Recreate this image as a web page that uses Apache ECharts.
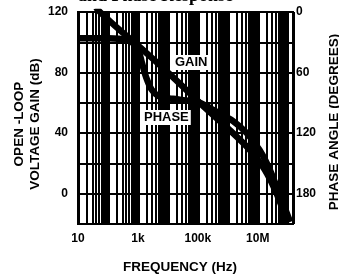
<!DOCTYPE html>
<html><head><meta charset="utf-8">
<script src="https://cdn.jsdelivr.net/npm/echarts@6/dist/echarts.min.js"></script>
<style>html,body{margin:0;padding:0;background:#fff}#c{width:339px;height:274px}</style>
</head><body><div id="c"></div>
<script>
// Data
const gainFreq = [40, 54, 250, 1470, 14700, 116000, 1160000, 5400000, 17000000, 43000000, 93000000];
const gainDb   = [123, 120, 108, 95, 77, 60, 42, 29, 16, 0, -18];
const phaseFreq = [10, 100, 430, 930, 1350, 1850, 2900, 5400, 14700, 50000, 116000, 430000, 1500000, 4300000, 11600000, 25000000, 54000000, 120000000];
const phaseDeg  = [26, 26, 28, 35, 50, 64, 77, 84, 86, 88, 90, 99, 108, 120, 137, 156, 181, 208];
const gainTickLabels = [0, 40, 80, 120];
const phaseTickLabels = [0, 60, 120, 180];
const freqTickLabels = {1: '10', 3: '1k', 5: '100k', 7: '10M'};

const FONT = '"Liberation Sans", Arial, sans-serif';
const minorLines = [];
for (let e = 1; e <= 7; e++) {
  for (let k = 2; k <= 9; k++) {
    const v = k * Math.pow(10, e);
    if (v < 1.5e8) minorLines.push({xAxis: v});
  }
}

const chart = echarts.init(document.getElementById('c'), null, {renderer: 'canvas'});
chart.setOption({
  animation: false,
  backgroundColor: '#fff',
  grid: {left: 78, right: 46, top: 12, bottom: 50, show: true, borderColor: '#000', borderWidth: 2,
         backgroundColor: '#fff', containLabel: false, outerBoundsMode: 'none'},
  graphic: [
    {type: 'text', left: 78, top: -13, style: {text: 'and Phase Response', font: 'bold 18px "Liberation Serif", serif', fill: '#000'}},
    {type: 'text', x: 27, y: 124, rotation: Math.PI / 2,
      style: {text: 'OPEN -LOOP\nVOLTAGE GAIN (dB)', align: 'center', verticalAlign: 'middle', lineHeight: 16,
              font: 'bold 13.5px ' + FONT, fill: '#000'}},
    {type: 'text', x: 334, y: 122, rotation: Math.PI / 2,
      style: {text: 'PHASE ANGLE (DEGREES)', align: 'center', verticalAlign: 'middle',
              font: 'bold 13.5px ' + FONT, fill: '#000'}},
    {type: 'text', x: 180, y: 267,
      style: {text: 'FREQUENCY (Hz)', align: 'center', verticalAlign: 'middle',
              font: 'bold 13.5px ' + FONT, fill: '#000'}},
    {type: 'text', left: 173, top: 55, z: 100, style: {text: 'GAIN', font: 'bold 13px ' + FONT, fill: '#000', backgroundColor: '#fff', padding: [1, 2, 1, 2]}},
    {type: 'text', left: 142, top: 110, z: 100, style: {text: 'PHASE', font: 'bold 13px ' + FONT, fill: '#000', backgroundColor: '#fff', padding: [1, 2, 1, 2]}}
  ],
  xAxis: {
    type: 'log', logBase: 10, min: 10, max: 1.5e8,
    axisLine: {lineStyle: {color: '#000', width: 2}},
    axisTick: {show: false},
    axisLabel: {
      margin: 9, fontFamily: FONT, fontWeight: 'bold', fontSize: 12, color: '#000',
      formatter: v => freqTickLabels[Math.round(Math.log10(v))] || ''
    },
    splitLine: {show: true, lineStyle: {color: '#000', width: 3}}
  },
  yAxis: [
    {
      type: 'value', min: -20, max: 120, interval: 20, position: 'left',
      axisLine: {show: true, lineStyle: {color: '#000', width: 2}},
      axisTick: {show: false},
      axisLabel: {margin: 10, fontFamily: FONT, fontWeight: 'bold', fontSize: 12, color: '#000',
        formatter: v => gainTickLabels.includes(v) ? String(v) : ''},
      splitLine: {show: true, lineStyle: {color: '#000', width: 2}}
    },
    {
      type: 'value', min: 0, max: 210, interval: 30, inverse: true, position: 'right',
      axisLine: {show: true, lineStyle: {color: '#000', width: 2}},
      axisTick: {show: false},
      axisLabel: {margin: 3, fontFamily: FONT, fontWeight: 'bold', fontSize: 12, color: '#000',
        formatter: v => phaseTickLabels.includes(v) ? String(v) : ''},
      splitLine: {show: false}
    }
  ],
  series: [
    {
      type: 'line', yAxisIndex: 0, data: [], silent: true,
      markLine: {silent: true, symbol: 'none', label: {show: false},
        lineStyle: {color: '#000', width: 2, type: 'solid'}, data: minorLines}
    },
    {
      name: 'GAIN', type: 'line', yAxisIndex: 0, smooth: 0.3, showSymbol: false, clip: true,
      lineStyle: {color: '#000', width: 6.5}, z: 10,
      data: gainFreq.map((f, i) => [f, gainDb[i]])
    },
    {
      name: 'PHASE', type: 'line', yAxisIndex: 1, smooth: 0.3, showSymbol: false, clip: true,
      lineStyle: {color: '#000', width: 6.5}, z: 10,
      data: phaseFreq.map((f, i) => [f, phaseDeg[i]])
    }
  ]
});
</script>
</body></html>
